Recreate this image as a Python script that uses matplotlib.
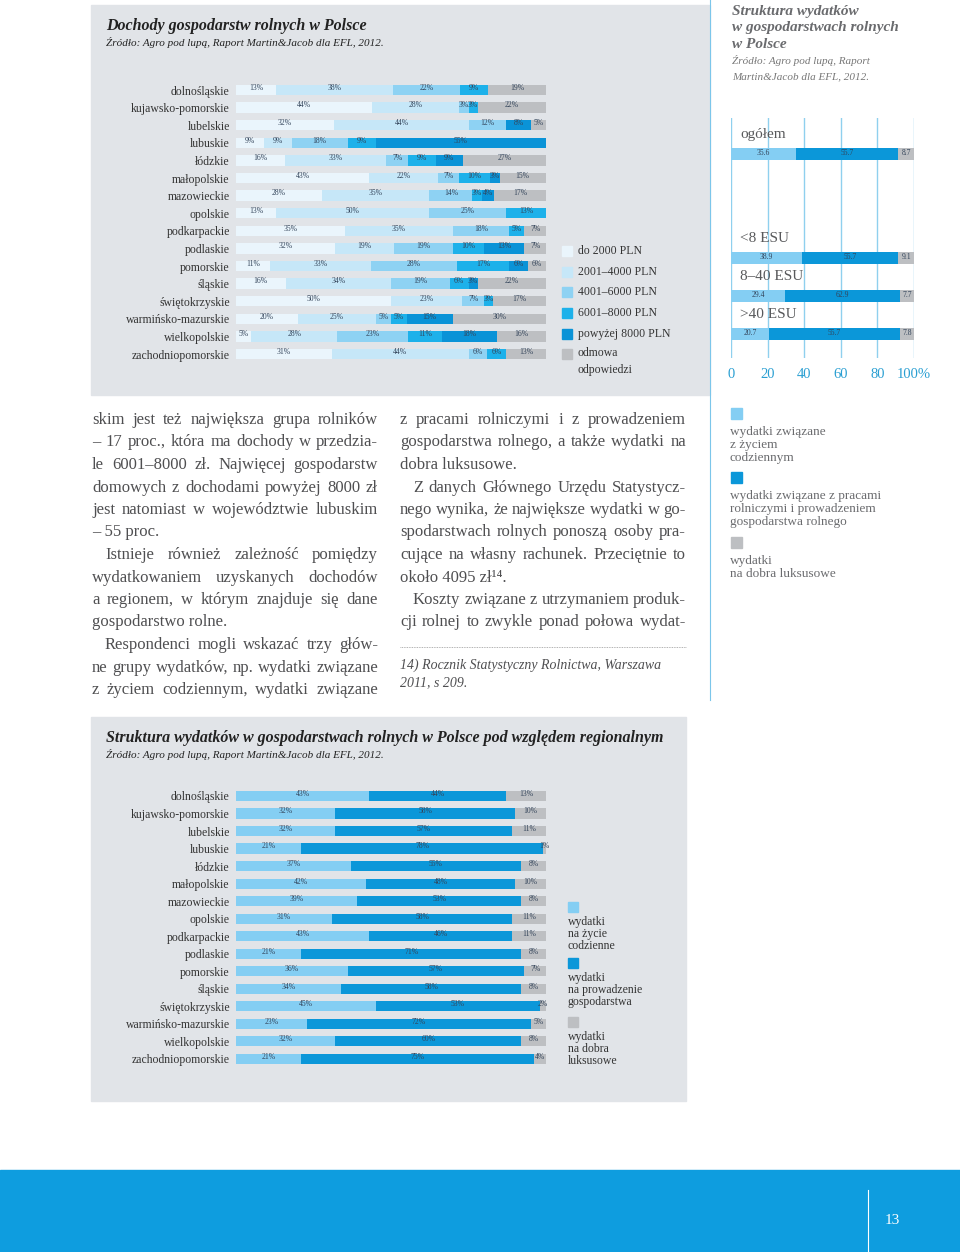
import numpy as np
import matplotlib
matplotlib.use('Agg')
import matplotlib.pyplot as plt
from matplotlib.patches import Rectangle

plt.rcParams['font.family'] = ['Liberation Serif', 'DejaVu Serif']

W, H = 960, 1252

# --- data: income structure by region (top chart) ---
regions = ['dolnośląskie', 'kujawsko-pomorskie', 'lubelskie', 'lubuskie', 'łódzkie',
           'małopolskie', 'mazowieckie', 'opolskie', 'podkarpackie', 'podlaskie',
           'pomorskie', 'śląskie', 'świętokrzyskie', 'warmińsko-mazurskie',
           'wielkopolskie', 'zachodniopomorskie']
inc_2000 = [13, 44, 32, 9, 16, 43, 28, 13, 35, 32, 11, 16, 50, 20, 5, 31]
inc_4000 = [38, 28, 44, 9, 33, 22, 35, 50, 35, 19, 33, 34, 23, 25, 28, 44]
inc_6000 = [22, 3, 12, 18, 7, 7, 14, 25, 18, 19, 28, 19, 7, 5, 23, 6]
inc_8000 = [9, 3, 0, 9, 9, 10, 3, 13, 5, 10, 17, 6, 3, 5, 11, 6]
inc_over = [0, 0, 8, 55, 9, 3, 4, 0, 0, 13, 6, 3, 0, 15, 18, 0]
inc_refused = [19, 22, 5, 0, 27, 15, 17, 0, 7, 7, 6, 22, 17, 30, 16, 13]
income_labels = ['do 2000 PLN', '2001–4000 PLN', '4001–6000 PLN', '6001–8000 PLN',
                 'powyżej 8000 PLN', 'odmowa\nodpowiedzi']

# --- data: expenditure structure by farm size (right chart) ---
groups = ['ogółem', '<8 ESU', '8–40 ESU', '>40 ESU']
grp_daily = [35.6, 38.9, 29.4, 20.7]
grp_farm = [55.7, 52.6, 62.9, 71.5]      # bar lengths as drawn
grp_lux = [8.7, 8.5, 7.7, 7.8]
grp_daily_txt = ['35.6', '38.9', '29.4', '20.7']   # labels as printed
grp_farm_txt = ['55.7', '55.7', '62.9', '55.7']
grp_lux_txt = ['8.7', '9.1', '7.7', '7.8']
grp_ticks = [0, 20, 40, 60, 80, 100]
grp_ticklabels = ['0', '20', '40', '60', '80', '100%']

# --- data: expenditure structure by region (bottom chart) ---
reg_daily = [43, 32, 32, 21, 37, 42, 39, 31, 43, 21, 36, 34, 45, 23, 32, 21]
reg_farm = [44, 58, 57, 78, 55, 48, 53, 58, 46, 71, 57, 58, 53, 72, 60, 75]
reg_lux = [13, 10, 11, 1, 8, 10, 8, 11, 11, 8, 7, 8, 2, 5, 8, 4]

inc_colors = ['#eaf5fc', '#c6e7f8', '#8ed2f3', '#1db1ea', '#0a93d7', '#bdbfc2']
exp_colors = ['#84cef3', '#0b97d9', '#bdbfc2']
PANEL = '#e1e4e8'
TEXT = '#4f4f51'
LBL = '#33445a'

fig = plt.figure(figsize=(W / 100, H / 100), dpi=100)
page = fig.add_axes([0, 0, 1, 1])
page.set_xlim(0, W)
page.set_ylim(H, 0)
page.axis('off')


def px_axes(x, y, w, h):
    ax = fig.add_axes([x / W, 1 - (y + h) / H, w / W, h / H])
    ax.set_facecolor('none')
    for s in ax.spines.values():
        s.set_visible(False)
    return ax


def justify(lines, x0, x1, y0, step, indent=13, **kw):
    # 'n' justified, 'l' last line of paragraph, 'i' indented first line
    r = fig.canvas.get_renderer()
    y = y0
    for kind, txt in lines:
        xs = x0 + (indent if kind == 'i' else 0)
        words = txt.split()
        if kind == 'l' or len(words) == 1:
            page.text(xs, y, txt, va='center', **kw)
        else:
            ts = [page.text(0, y, w_, va='center', **kw) for w_ in words]
            ws = [t.get_window_extent(r).width for t in ts]
            gap = (x1 - xs - sum(ws)) / (len(words) - 1)
            x = xs
            for t, w_ in zip(ts, ws):
                t.set_x(x)
                x += w_ + gap
        y += step


# ---------- panels ----------
page.add_patch(Rectangle((91, 5), 619, 390, color=PANEL, zorder=0))
page.add_patch(Rectangle((91, 717), 595, 384, color=PANEL, zorder=0))
page.plot([710, 710], [0, 700], color='#7cc6ea', lw=0.8)

# ---------- top chart ----------
page.text(106, 26, 'Dochody gospodarstw rolnych w Polsce', fontsize=11.5,
          fontweight='bold', style='italic', color='#222', va='center')
page.text(106, 43, 'Źródło: Agro pod lupą, Raport Martin&Jacob dla EFL, 2012.',
          fontsize=8, style='italic', color='#222', va='center')

ax = px_axes(236, 81.2, 310, 281.6)
rows = np.arange(len(regions))
series = [inc_2000, inc_4000, inc_6000, inc_8000, inc_over, inc_refused]
totals = np.sum(np.array(series, float), axis=0)
left = np.zeros(len(regions))
for vals, col in zip(series, inc_colors):
    vals = np.array(vals, float)
    share = vals / totals * 100
    ax.barh(rows, share, left=left, height=0.58, color=col)
    for r_, (v, s, l) in enumerate(zip(vals, share, left)):
        if v > 0:
            ax.text(l + s / 2, r_ - 0.12, f'{v:g}%', ha='center', va='center',
                    fontsize=5.5, color=LBL)
    left += share
ax.set_xlim(0, 100)
ax.set_ylim(len(regions) - 0.5, -0.5)
ax.set_yticks(rows, regions)
ax.set_xticks([])
ax.tick_params(axis='y', length=0, pad=4.5, labelsize=8.5, labelcolor='#333')

leg_y = [251, 272, 292, 313, 334, 354]
for y, col, lab in zip(leg_y, inc_colors, income_labels):
    page.add_patch(Rectangle((562, y - 5), 10, 10, color=col))
    if '\n' in lab:
        page.text(578, y - 7, lab, fontsize=8.5, color='#333', va='top', linespacing=1.55)
    else:
        page.text(578, y, lab, fontsize=8.5, color='#333', va='center')

# ---------- right chart ----------
for i, t in enumerate(['Struktura wydatków', 'w gospodarstwach rolnych', 'w Polsce']):
    page.text(732, 12 + 16 * i, t, fontsize=11, fontweight='bold', style='italic',
              color='#6a6b6e', va='center')
page.text(732, 61, 'Źródło: Agro pod lupą, Raport', fontsize=8, style='italic', color='#777', va='center')
page.text(732, 77, 'Martin&Jacob dla EFL, 2012.', fontsize=8, style='italic', color='#777', va='center')

axr = px_axes(731, 118, 183, 240)
ypos = np.array([0, 2.72, 3.72, 4.72])
axr.set_xlim(0, 100)
axr.set_ylim(5.35, -0.95)
for g in grp_ticks:
    axr.axvline(g, color='#8fd0ee', lw=1, zorder=0)
left = np.zeros(len(groups))
for vals, txts, col in zip([grp_daily, grp_farm, grp_lux],
                           [grp_daily_txt, grp_farm_txt, grp_lux_txt], exp_colors):
    vals = np.array(vals)
    axr.barh(ypos, vals, left=left, height=0.3, color=col, zorder=2)
    for yy, v, l, t in zip(ypos, vals, left, txts):
        axr.text(l + v / 2, yy - 0.02, t, ha='center', va='center', fontsize=5.5,
                 color=LBL, zorder=3)
    left += vals
for yy, g in zip(ypos, groups):
    axr.text(5, yy - 0.52, g, fontsize=11, color='#58595b', va='center', zorder=3)
axr.set_yticks([])
axr.set_xticks(grp_ticks, grp_ticklabels)
axr.tick_params(axis='x', length=0, pad=7, labelsize=10.5, labelcolor='#2a9fd2')

leg2 = [(408, ['wydatki związane', 'z życiem', 'codziennym']),
        (472, ['wydatki związane z pracami', 'rolniczymi i prowadzeniem', 'gospodarstwa rolnego']),
        (537, ['wydatki', 'na dobra luksusowe'])]
for (y, lines), col in zip(leg2, exp_colors):
    page.add_patch(Rectangle((731, y), 11, 11, color=col))
    for k, t in enumerate(lines):
        page.text(730, y + 24 + 12.8 * k, t, fontsize=9.5, color='#6a6b6e', va='center')

# ---------- body text ----------
body_kw = dict(fontsize=12, color=TEXT)
col1 = [('n', 'skim jest też największa grupa rolników'),
        ('n', '– 17 proc., która ma dochody w przedzia-'),
        ('n', 'le 6001–8000 zł. Najwięcej gospodarstw'),
        ('n', 'domowych z dochodami powyżej 8000 zł'),
        ('n', 'jest natomiast w województwie lubuskim'),
        ('l', '– 55 proc.'),
        ('i', 'Istnieje również zależność pomiędzy'),
        ('n', 'wydatkowaniem uzyskanych dochodów'),
        ('n', 'a regionem, w którym znajduje się dane'),
        ('l', 'gospodarstwo rolne.'),
        ('i', 'Respondenci mogli wskazać trzy głów-'),
        ('n', 'ne grupy wydatków, np. wydatki związane'),
        ('n', 'z życiem codziennym, wydatki związane')]
col2 = [('n', 'z pracami rolniczymi i z prowadzeniem'),
        ('n', 'gospodarstwa rolnego, a także wydatki na'),
        ('l', 'dobra luksusowe.'),
        ('i', 'Z danych Głównego Urzędu Statystycz-'),
        ('n', 'nego wynika, że największe wydatki w go-'),
        ('n', 'spodarstwach rolnych ponoszą osoby pra-'),
        ('n', 'cujące na własny rachunek. Przeciętnie to'),
        ('l', 'około 4095 zł¹⁴.'),
        ('i', 'Koszty związane z utrzymaniem produk-'),
        ('n', 'cji rolnej to zwykle ponad połowa wydat-')]
justify(col1, 92, 378, 420, 22.5, **body_kw)
justify(col2, 400, 686, 420, 22.5, **body_kw)
page.plot([400, 686], [647, 647], ls=(0, (1, 1)), color='#999', lw=0.6)
page.text(400, 665, '14) Rocznik Statystyczny Rolnictwa, Warszawa', fontsize=10,
          style='italic', color=TEXT, va='center')
page.text(400, 683, '2011, s 209.', fontsize=10, style='italic', color=TEXT, va='center')

# ---------- bottom chart ----------
page.text(106, 738, 'Struktura wydatków w gospodarstwach rolnych w Polsce pod względem regionalnym',
          fontsize=11.5, fontweight='bold', style='italic', color='#222', va='center')
page.text(106, 755, 'Źródło: Agro pod lupą, Raport Martin&Jacob dla EFL, 2012.',
          fontsize=8, style='italic', color='#222', va='center')

axb = px_axes(236, 787.2, 310, 280.5)
left = np.zeros(len(regions))
for vals, col in zip([reg_daily, reg_farm, reg_lux], exp_colors):
    vals = np.array(vals, float)
    axb.barh(rows, vals, left=left, height=0.58, color=col)
    for r_, (v, l) in enumerate(zip(vals, left)):
        axb.text(l + v / 2, r_ - 0.12, f'{v:g}%', ha='center', va='center',
                 fontsize=5.5, color=LBL, clip_on=False)
    left += vals
axb.set_xlim(0, 100)
axb.set_ylim(len(regions) - 0.5, -0.5)
axb.set_yticks(rows, regions)
axb.set_xticks([])
axb.tick_params(axis='y', length=0, pad=4.5, labelsize=8.5, labelcolor='#333')

leg3 = [(902, ['wydatki', 'na życie', 'codzienne']),
        (958, ['wydatki', 'na prowadzenie', 'gospodarstwa']),
        (1017, ['wydatki', 'na dobra', 'luksusowe'])]
for (y, lines), col in zip(leg3, exp_colors):
    page.add_patch(Rectangle((568, y), 10, 10, color=col))
    for k, t in enumerate(lines):
        page.text(568, y + 20 + 12 * k, t, fontsize=8.5, color='#333', va='center')

# ---------- footer ----------
page.add_patch(Rectangle((0, 1170), W, 82, color='#0e9ddf'))
page.plot([868, 868], [1190, 1252], color='white', lw=0.8)
page.text(885, 1221, '13', fontsize=11, color='white', va='center')

fig.savefig('out.png', dpi=100)
